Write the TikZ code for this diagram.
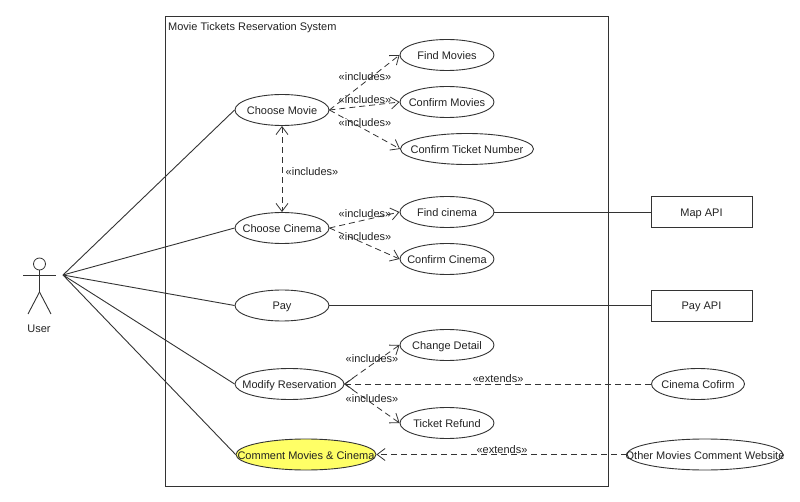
\documentclass[tikz,border=0pt]{standalone}
\usepackage{fontspec}
\setmainfont{Liberation Sans}
\usetikzlibrary{shapes.geometric,arrows.meta}

\begin{document}
\begin{tikzpicture}[x=1pt,y=-1pt,auto,
    font=\fontsize{11}{13}\selectfont,
    usecase/.style ={ellipse, draw=linegray, line width=0.9pt, inner ysep=0pt, inner xsep=-30pt, text=textgray, text height=9pt, text depth=0pt, minimum width=94pt, minimum height=31pt},
    apibox/.style ={rectangle, draw=linegray, line width=0.9pt, inner sep=0pt, text=textgray, text height=9pt, text depth=0pt, minimum width=101pt, minimum height=31pt},
    assoc/.style ={draw=linegray, line width=0.9pt},
    depend/.style ={draw=linegray, line width=0.8pt, dash pattern=on 6pt off 4pt, -{Straight Barb[length=8pt,width=12pt]}},
    stereo/.style ={text=textgray, text height=9pt, text depth=0pt, inner sep=0pt}]
   \definecolor{linegray}{HTML}{333333}
   \definecolor{textgray}{HTML}{222222}
   \definecolor{useyellow}{HTML}{FFFF66}
   \useasboundingbox (0,0) rectangle (800,502);

   \node[rectangle, draw=linegray, line width=0.9pt, minimum width=443pt, minimum height=470pt, inner sep=0pt] (System) at (386.5,251) {};
   \node[stereo, anchor=west] (SystemName) at (168,26) {Movie Tickets Reservation System};

   \node[usecase] (ChooseMovie) at (282,110) {Choose Movie};
   \node[usecase] (ChooseCinema) at (282,228) {Choose Cinema};
   \node[usecase] (Pay) at (282,305.5) {Pay};
   \node[usecase, minimum width=109pt] (ModifyReservation) at (289.5,384) {Modify Reservation};
   \node[usecase, minimum width=140pt, fill=useyellow] (CommentMovies) at (306,454.5) {Comment Movies \& Cinema};

   \node[usecase] (FindMovies) at (447,55) {Find Movies};
   \node[usecase] (ConfirmMovies) at (447,102) {Confirm Movies};
   \node[usecase, minimum width=133pt] (ConfirmTicket) at (467,149) {Confirm Ticket Number};
   \node[usecase] (FindCinema) at (447,212) {Find cinema};
   \node[usecase] (ConfirmCinema) at (447,259) {Confirm Cinema};
   \node[usecase] (ChangeDetail) at (447,345) {Change Detail};
   \node[usecase] (TicketRefund) at (447,423) {Ticket Refund};

   \node[usecase, minimum width=93pt] (CinemaConfirm) at (698,384) {Cinema Cofirm};
   \node[usecase, minimum width=156pt] (OtherWebsite) at (705,454.5) {Other Movies Comment Website};
   \node[apibox] (MapAPI) at (701.5,212) {Map API};
   \node[apibox] (PayAPI) at (701.5,305.5) {Pay API};

   \node[circle, draw=linegray, line width=0.8pt, minimum size=12pt, inner sep=0pt] (Head) at (39.5,264) {};
   \coordinate (Hip) at (39.5,292);
   \coordinate (LeftArm) at (23,275);
   \coordinate (RightArm) at (56,275);
   \coordinate (LeftFoot) at (28,314);
   \coordinate (RightFoot) at (51,314);
   \coordinate (User) at (63,275);
   \node[stereo] (UserName) at (39,328) {User};

   \draw[assoc] (Head) to (Hip);
   \draw[assoc] (LeftArm) to (RightArm);
   \draw[assoc] (LeftFoot) to (Hip);
   \draw[assoc] (Hip) to (RightFoot);

   \draw[assoc] (User) to (ChooseMovie.west);
   \draw[assoc] (User) to (ChooseCinema.west);
   \draw[assoc] (User) to (Pay.west);
   \draw[assoc] (User) to (ModifyReservation.west);
   \draw[assoc] (User) to (CommentMovies.west);
   \draw[assoc] (FindCinema) to (MapAPI);
   \draw[assoc] (Pay) to (PayAPI);

   \draw[depend] (ChooseMovie.east) to (FindMovies.west);
   \draw[depend] (ChooseMovie.east) to (ConfirmMovies.west);
   \draw[depend] (ChooseMovie.east) to (ConfirmTicket.west);
   \draw[depend, {Straight Barb[length=8pt,width=12pt]}-{Straight Barb[length=8pt,width=12pt]}] (ChooseMovie) to (ChooseCinema);
   \draw[depend] (ChooseCinema.east) to (FindCinema.west);
   \draw[depend] (ChooseCinema.east) to (ConfirmCinema.west);
   \draw[depend] (ModifyReservation.east) to (ChangeDetail.west);
   \draw[depend] (ModifyReservation.east) to (TicketRefund.west);
   \draw[depend] (CinemaConfirm) to (ModifyReservation);
   \draw[depend] (OtherWebsite) to (CommentMovies);

   \node[stereo] (IncFindMovies) at (365,76) {«includes»};
   \node[stereo] (IncConfirmMovies) at (365,99) {«includes»};
   \node[stereo] (IncConfirmTicket) at (365,122) {«includes»};
   \node[stereo] (IncChooseCinema) at (312,171) {«includes»};
   \node[stereo] (IncFindCinema) at (365,213) {«includes»};
   \node[stereo] (IncConfirmCinema) at (365,236) {«includes»};
   \node[stereo] (IncChangeDetail) at (372,358) {«includes»};
   \node[stereo] (IncTicketRefund) at (372,398) {«includes»};
   \node[stereo] (ExtCinemaConfirm) at (498,378) {«extends»};
   \node[stereo] (ExtOtherWebsite) at (502,449) {«extends»};
\end{tikzpicture}
\end{document}
